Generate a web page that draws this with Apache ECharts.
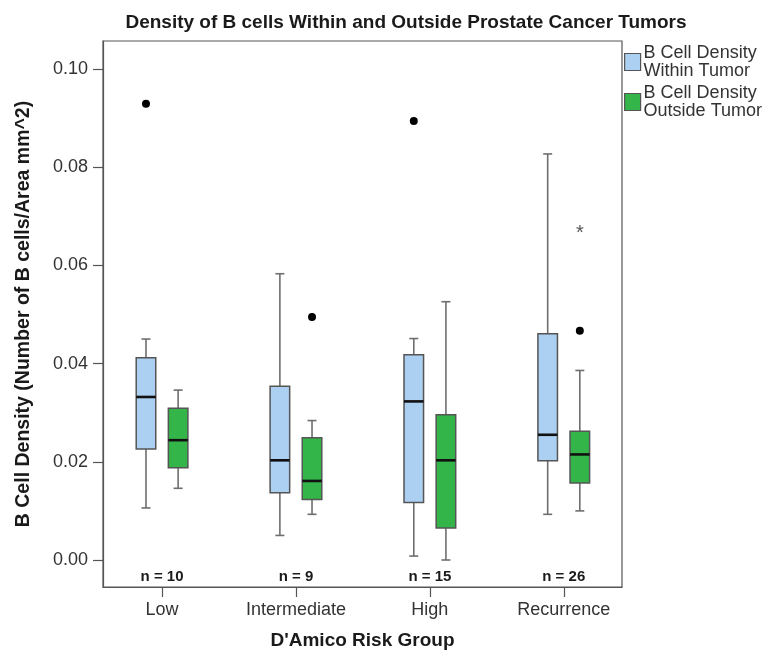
<!DOCTYPE html>
<html>
<head>
<meta charset="utf-8">
<script src="https://cdn.jsdelivr.net/npm/echarts@6/dist/echarts.min.js"></script>
<style>html,body{margin:0;padding:0;background:#fff}#c{width:771px;height:652px}</style>
</head>
<body>
<div id="c"></div>
<script>
const categories = ['Low', 'Intermediate', 'High', 'Recurrence'];
const counts = [10, 9, 15, 26];
// [min, q1, median, q3, max]
const withinTumor = [
  [0.0106, 0.0226, 0.0332, 0.0412, 0.0450],
  [0.0050, 0.0137, 0.0203, 0.0354, 0.0583],
  [0.0008, 0.0117, 0.0323, 0.0418, 0.0451],
  [0.0093, 0.0202, 0.0255, 0.0461, 0.0827]
];
const outsideTumor = [
  [0.0146, 0.0188, 0.0244, 0.0309, 0.0346],
  [0.0093, 0.0123, 0.0161, 0.0249, 0.0284],
  [0.0000, 0.0065, 0.0203, 0.0296, 0.0526],
  [0.0100, 0.0157, 0.0215, 0.0262, 0.0386]
];
// [category index, value]
const withinOutliers = [[0, 0.0929], [2, 0.0894]];
const outsideOutliers = [[1, 0.0495], [3, 0.0467]];
const outsideExtremes = [[3, 0.0674]];
const yTicks = [0, 0.02, 0.04, 0.06, 0.08, 0.10];

const seriesNames = ['B Cell Density\nWithin Tumor', 'B Cell Density\nOutside Tumor'];
const fills = ['#acd0f1', '#34b54a'];
const OFF = 0.12, BOXW = 0.146;
const font = 'Liberation Sans, Arial, sans-serif';

function boxRender(offset, fill) {
  return function (params, api) {
    const i = api.value(0);
    const x = i + offset;
    const w = api.size([BOXW, 0])[0];
    const pMin = api.coord([x, api.value(1)]);
    const pQ1 = api.coord([x, api.value(2)]);
    const pMed = api.coord([x, api.value(3)]);
    const pQ3 = api.coord([x, api.value(4)]);
    const pMax = api.coord([x, api.value(5)]);
    const cx = pMin[0];
    const cap = 9;
    const wStyle = { stroke: '#6e6e6e', lineWidth: 1.6 };
    return {
      type: 'group',
      children: [
        { type: 'line', shape: { x1: cx, y1: pQ3[1], x2: cx, y2: pMax[1] }, style: wStyle },
        { type: 'line', shape: { x1: cx, y1: pQ1[1], x2: cx, y2: pMin[1] }, style: wStyle },
        { type: 'line', shape: { x1: cx - cap / 2, y1: pMax[1], x2: cx + cap / 2, y2: pMax[1] }, style: wStyle },
        { type: 'line', shape: { x1: cx - cap / 2, y1: pMin[1], x2: cx + cap / 2, y2: pMin[1] }, style: wStyle },
        { type: 'rect', shape: { x: cx - w / 2, y: pQ3[1], width: w, height: pQ1[1] - pQ3[1] },
          style: { fill: fill, stroke: '#555', lineWidth: 1.5 } },
        { type: 'line', shape: { x1: cx - w / 2, y1: pMed[1], x2: cx + w / 2, y2: pMed[1] },
          style: { stroke: '#111', lineWidth: 2.6 } }
      ]
    };
  };
}

const yMin = -0.0055, yMax = 0.1057;

const option = {
  animation: false,
  backgroundColor: '#fff',
  title: {
    text: 'Density of B cells Within and Outside Prostate Cancer Tumors',
    left: 401, top: 8, textAlign: 'center',
    textStyle: { fontFamily: font, fontSize: 19, fontWeight: 'bold', color: '#1a1a1a' }
  },
  legend: {
    orient: 'vertical', left: 624, top: 44, itemGap: 4, padding: 0,
    itemWidth: 16, itemHeight: 17,
    textStyle: { fontFamily: font, fontSize: 18, lineHeight: 18, color: '#333', padding: [0, 0, 0, -2] },
    data: [
      { name: seriesNames[0], icon: 'rect', itemStyle: { color: fills[0], borderColor: '#555', borderWidth: 1.2 } },
      { name: seriesNames[1], icon: 'rect', itemStyle: { color: fills[1], borderColor: '#555', borderWidth: 1.2 } }
    ]
  },
  grid: { left: 103, top: 41, right: 149, bottom: 65, show: true, borderColor: '#555', borderWidth: 1.2,
          containLabel: false, outerBoundsMode: 'none' },
  xAxis: {
    type: 'value', min: -0.441, max: 3.435,
    name: "D'Amico Risk Group", nameLocation: 'middle', nameGap: 44,
    nameTextStyle: { fontFamily: font, fontSize: 19, fontWeight: 'bold', color: '#1a1a1a' },
    axisLine: { show: true, onZero: false, lineStyle: { color: '#555', width: 1.2 } },
    splitLine: { show: false },
    axisTick: { show: true, length: 10, customValues: [0, 1, 2, 3], lineStyle: { color: '#555', width: 1.2 } },
    axisLabel: {
      customValues: [0, 1, 2, 3], margin: 14,
      formatter: v => categories[Math.round(v)],
      fontFamily: font, fontSize: 18, color: '#333'
    }
  },
  yAxis: {
    type: 'value', min: yMin, max: yMax,
    name: 'B Cell Density (Number of B cells/Area mm^2)', nameLocation: 'middle', nameGap: 69,
    nameTextStyle: { fontFamily: font, fontSize: 19.5, fontWeight: 'bold', color: '#1a1a1a' },
    axisLine: { show: true, onZero: false, lineStyle: { color: '#555', width: 1.2 } },
    splitLine: { show: false },
    axisTick: { show: true, length: 10, customValues: yTicks, lineStyle: { color: '#555', width: 1.2 } },
    axisLabel: {
      customValues: yTicks, margin: 15,
      formatter: v => v.toFixed(2),
      fontFamily: font, fontSize: 18, color: '#333'
    }
  },
  series: [
    {
      name: seriesNames[0], type: 'custom', itemStyle: { color: fills[0] },
      renderItem: boxRender(-OFF, fills[0]),
      encode: { x: 0, y: [1, 2, 3, 4, 5] },
      data: withinTumor.map((d, i) => [i].concat(d))
    },
    {
      name: seriesNames[1], type: 'custom', itemStyle: { color: fills[1] },
      renderItem: boxRender(OFF, fills[1]),
      encode: { x: 0, y: [1, 2, 3, 4, 5] },
      data: outsideTumor.map((d, i) => [i].concat(d))
    },
    {
      type: 'scatter', symbolSize: 8, itemStyle: { color: '#000', opacity: 1 },
      data: withinOutliers.map(d => [d[0] - OFF, d[1]])
    },
    {
      type: 'scatter', symbolSize: 8, itemStyle: { color: '#000', opacity: 1 },
      data: outsideOutliers.map(d => [d[0] + OFF, d[1]])
    },
    {
      type: 'custom',
      renderItem: function (params, api) {
        const p = api.coord([api.value(0) + OFF, api.value(1)]);
        return {
          type: 'text',
          style: {
            text: '*', x: p[0], y: p[1] + 4,
            align: 'center', verticalAlign: 'middle',
            font: '20px ' + font, fill: '#555'
          }
        };
      },
      encode: { x: 0, y: 1 },
      data: outsideExtremes
    },
    {
      type: 'custom',
      renderItem: function (params, api) {
        const p = api.coord([api.value(0), yMin]);
        return {
          type: 'text',
          style: {
            text: 'n = ' + api.value(1), x: p[0], y: p[1] - 10,
            align: 'center', verticalAlign: 'middle',
            font: 'bold 15px ' + font, fill: '#1a1a1a'
          }
        };
      },
      encode: { x: 0, y: -1 },
      data: counts.map((n, i) => [i, n])
    }
  ]
};
echarts.init(document.getElementById('c')).setOption(option);
</script>
</body>
</html>
